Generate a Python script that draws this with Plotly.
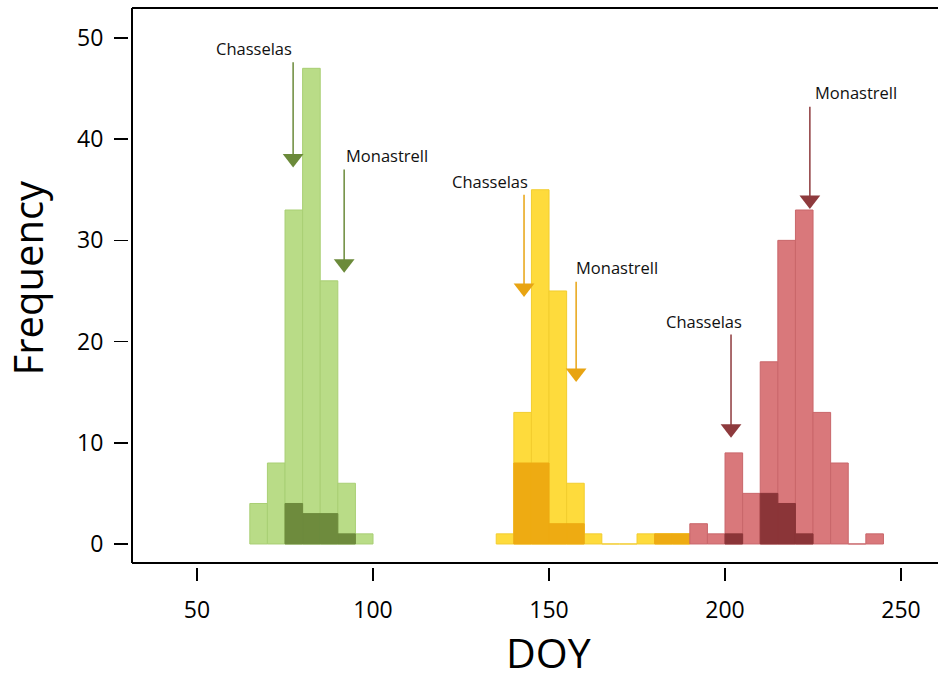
import plotly.graph_objects as go

# ---- data (bin left edges, width 5 days) ----
bin_width = 5
green_bins = [65, 70, 75, 80, 85, 90, 95]
green_all = [4, 8, 33, 47, 26, 6, 1]
green_dark_bins = [75, 80, 85, 90]
green_dark = [4, 3, 3, 1]

yellow_bins = [135, 140, 145, 150, 155, 160, 165, 170, 175, 180, 185]
yellow_all = [1, 13, 35, 25, 6, 1, 0, 0, 1, 1, 1]
yellow_dark_bins = [140, 145, 150, 155, 180, 185]
yellow_dark = [8, 8, 2, 2, 1, 1]

red_bins = [190, 195, 200, 205, 210, 215, 220, 225, 230, 235, 240]
red_all = [2, 1, 9, 5, 18, 30, 33, 13, 8, 0, 1]
red_dark_bins = [200, 210, 215, 220]
red_dark = [1, 5, 4, 1]

# arrows: label, arrow x, tip y, top y, label x, label y, group
arrow_labels = ["Chasselas", "Monastrell", "Chasselas", "Monastrell", "Chasselas", "Monastrell"]
arrow_x = [77.3, 91.8, 142.9, 157.7, 201.7, 224.1]
arrow_tip = [37.2, 26.8, 24.4, 16.0, 10.5, 33.1]
arrow_top = [47.6, 37.0, 34.5, 25.9, 20.7, 43.2]
label_x = [66.3, 104.0, 133.2, 169.3, 194.0, 237.2]
label_y = [49.0, 38.4, 35.8, 27.3, 22.0, 44.6]
arrow_group = ["g", "g", "y", "y", "r", "r"]

x_ticks = [50, 100, 150, 200, 250]
y_ticks = [0, 10, 20, 30, 40, 50]

# ---- styles ----
colors = {
    "g": ("#b9dc87", "#6e8b3d", "#6b8a3a"),
    "y": ("#fedb3c", "#eeab12", "#e8a412"),
    "r": ("#d9787b", "#8b3538", "#8e3a3d"),
}
edge = {"g": "#a9cf74", "y": "#f2cd2e", "r": "#c9666a"}

FONT = "Open Sans"
W, H = 938, 679
ml, mr, mt, mb = 128, 0, 8, 112
plot_w = W - ml - mr
plot_h = H - mt - mb
gap = 4
xr = [31.53, 260.5]
yr = [-1.88, 52.96]
y_px_per_unit = (plot_h - gap) / (yr[1] - yr[0])

def px_to_paper(px, py):
    return (px - ml) / plot_w, (H - mb - py) / plot_h

fig = go.Figure()

def add_hist(bins, vals, color, line_color):
    fig.add_trace(go.Bar(
        x=[b + bin_width / 2 for b in bins], y=vals, width=bin_width,
        marker=dict(color=color, line=dict(color=line_color, width=1)),
        hoverinfo="skip", showlegend=False,
    ))

add_hist(green_bins, green_all, colors["g"][0], edge["g"])
add_hist(green_dark_bins, green_dark, colors["g"][1], colors["g"][1])
add_hist(yellow_bins, yellow_all, colors["y"][0], edge["y"])
add_hist(yellow_dark_bins, yellow_dark, colors["y"][1], colors["y"][1])
add_hist(red_bins, red_all, colors["r"][0], edge["r"])
add_hist(red_dark_bins, red_dark, colors["r"][1], colors["r"][1])

tri_size = 18
for lab, ax, tip, top, lx, ly, g in zip(arrow_labels, arrow_x, arrow_tip, arrow_top,
                                        label_x, label_y, arrow_group):
    c = colors[g][2]
    center = tip + (tri_size / 2) / y_px_per_unit
    fig.add_trace(go.Scatter(x=[ax, ax], y=[top, center], mode="lines",
                             line=dict(color=c, width=1.5),
                             hoverinfo="skip", showlegend=False))
    fig.add_trace(go.Scatter(x=[ax], y=[center], mode="markers",
                             marker=dict(symbol="triangle-down", size=tri_size, color=c,
                                         line=dict(width=0)),
                             hoverinfo="skip", showlegend=False))
    fig.add_annotation(x=lx, y=ly, text=lab, showarrow=False,
                       font=dict(family=FONT, size=16.5, color="#111111"))

# axis titles
fx, fy = px_to_paper(26.5, 278)
fig.add_annotation(x=fx, y=fy, xref="paper", yref="paper", text="Frequency",
                   textangle=-90, showarrow=False, xanchor="center", yanchor="middle",
                   font=dict(family=FONT, size=40, color="black"))
dx, dy = px_to_paper(548, 652)
fig.add_annotation(x=dx, y=dy, xref="paper", yref="paper", text="DOY",
                   showarrow=False, xanchor="center", yanchor="middle",
                   font=dict(family=FONT, size=41, color="black"))

# frame lines (left, top, bottom; right side cropped)
for x0, y0, x1, y1 in [(0, 0, 0, 1), (0, 1, 1, 1), (0, 0, 1, 0)]:
    fig.add_shape(type="line", xref="x domain", yref="y domain",
                  x0=x0, y0=y0, x1=x1, y1=y1, line=dict(color="black", width=2))

fig.update_layout(
    width=W, height=H,
    margin=dict(l=ml, r=mr, t=mt, b=mb, autoexpand=False),
    paper_bgcolor="white", plot_bgcolor="white",
    barmode="overlay", bargap=0,
    hovermode=False,
    font=dict(family=FONT, color="black"),
    xaxis=dict(
        domain=[gap / plot_w, 1], range=xr, anchor="free", position=0,
        tickvals=x_ticks, ticks="outside", ticklen=13, tickwidth=1.5, tickcolor="black",
        showgrid=False, zeroline=False, showline=False,
        tickfont=dict(family=FONT, size=23), ticklabelstandoff=9,
    ),
    yaxis=dict(
        domain=[gap / plot_h, 1], range=yr, anchor="free", position=0,
        tickvals=y_ticks, ticks="outside", ticklen=14, tickwidth=1.5, tickcolor="black",
        showgrid=False, zeroline=False, showline=False,
        tickfont=dict(family=FONT, size=23), ticklabelstandoff=6,
    ),
)

# remove the browser's default 8px body margin so the figure fills the window
fig.write_html("out.html",
               config={"displayModeBar": False, "staticPlot": True},
               post_script="document.body.style.margin='0';document.body.style.overflow='hidden';")
